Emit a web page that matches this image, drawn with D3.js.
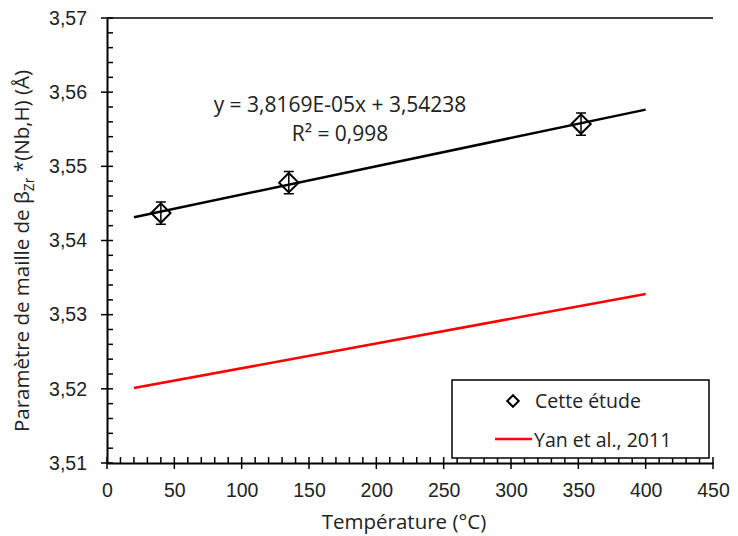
<!DOCTYPE html>
<html>
<head>
<meta charset="utf-8">
<script src="https://cdn.jsdelivr.net/npm/d3@7"></script>
<style>
  html, body { margin: 0; padding: 0; background: #fff; }
  svg { display: block; font-family: "Open Sans", "Noto Sans", sans-serif; }
</style>
</head>
<body>
<svg id="chart" width="738" height="536"></svg>
<script>
// Measured lattice parameter (this study)
const temps = [40, 135, 352];
const latticeParam = [3.5437, 3.5478, 3.5557];
const latticeErr = [0.0015, 0.0015, 0.0015];

// Linear fit y = a*x + b
const fitSlope = 3.8169e-5;
const fitIntercept = 3.54238;
const fitRange = [20, 400];

// Literature line (Yan et al., 2011)
const yanTemps = [20, 400];
const yanValues = [3.5201, 3.5328];

const xTicks = [0, 50, 100, 150, 200, 250, 300, 350, 400, 450];
const yTicks = [3.51, 3.52, 3.53, 3.54, 3.55, 3.56, 3.57];

const svg = d3.select("#chart");
const m = { left: 107, right: 25, top: 18, bottom: 73 };
const W = 738, H = 536;

const x = d3.scaleLinear().domain([0, 450]).range([m.left, W - m.right]);
const y = d3.scaleLinear().domain([3.51, 3.57]).range([H - m.bottom, m.top]);

const fmt = v => d3.format(".2f")(v).replace(".", ",");

// Top border of the plot area
svg.append("line")
  .attr("x1", x(0)).attr("x2", x(450))
  .attr("y1", y(3.57)).attr("y2", y(3.57))
  .attr("stroke", "#000").attr("stroke-width", 1.5);

// X axis: major ticks cross the line, minor ticks point inward
const xAxisG = svg.append("g").attr("transform", `translate(0,${y(3.51)})`);
xAxisG.call(d3.axisBottom(x).tickValues(xTicks).tickSize(0).tickFormat(d => d).tickPadding(20))
  .call(g => g.select(".domain").attr("stroke", "#000").attr("stroke-width", 2))
  .call(g => g.selectAll("text").attr("font-size", 19.5).attr("fill", "#222"));
xAxisG.selectAll(".major").data(xTicks).enter().append("line")
  .attr("x1", d => x(d)).attr("x2", d => x(d)).attr("y1", -6).attr("y2", 6)
  .attr("stroke", "#000").attr("stroke-width", 1.5);
xAxisG.selectAll(".minor").data(d3.range(0, 451, 10).filter(v => v % 50 !== 0)).enter().append("line")
  .attr("x1", d => x(d)).attr("x2", d => x(d)).attr("y1", 0).attr("y2", -6)
  .attr("stroke", "#000").attr("stroke-width", 1.5);

// Y axis
const yAxisG = svg.append("g").attr("transform", `translate(${x(0)},0)`);
yAxisG.call(d3.axisLeft(y).tickValues(yTicks).tickSize(0).tickFormat(fmt).tickPadding(20))
  .call(g => g.select(".domain").attr("stroke", "#000").attr("stroke-width", 2))
  .call(g => g.selectAll("text").attr("font-size", 19.5).attr("fill", "#222"));
yAxisG.selectAll(".major").data(yTicks).enter().append("line")
  .attr("x1", -6).attr("x2", 6).attr("y1", d => y(d)).attr("y2", d => y(d))
  .attr("stroke", "#000").attr("stroke-width", 1.5);
const yMinor = d3.range(0, 31).map(i => 3.51 + i * 0.002).filter((v, i) => i % 5 !== 0);
yAxisG.selectAll(".minor").data(yMinor).enter().append("line")
  .attr("x1", 0).attr("x2", 6).attr("y1", d => y(d)).attr("y2", d => y(d))
  .attr("stroke", "#000").attr("stroke-width", 1.5);

// Axis titles
svg.append("text")
  .attr("x", (x(0) + x(450)) / 2 - 6).attr("y", 529)
  .attr("text-anchor", "middle").attr("font-size", 20.5).attr("fill", "#222")
  .text("Température (°C)");

const yTitle = svg.append("text")
  .attr("transform", `translate(29,251) rotate(-90)`)
  .attr("text-anchor", "middle").attr("font-size", 20.5).attr("fill", "#222");
yTitle.append("tspan").text("Paramètre de maille de β");
yTitle.append("tspan").attr("font-size", 14).attr("dy", 5).text("Zr");
yTitle.append("tspan").attr("dy", -5).text(" *(Nb,H) (Å)");

// Literature line
const line = d3.line().x(d => x(d[0])).y(d => y(d[1]));
svg.append("path")
  .datum(d3.zip(yanTemps, yanValues))
  .attr("d", line).attr("fill", "none").attr("stroke", "#ff0000").attr("stroke-width", 2.5);

// Linear fit line
svg.append("path")
  .datum(fitRange.map(t => [t, fitSlope * t + fitIntercept]))
  .attr("d", line).attr("fill", "none").attr("stroke", "#000").attr("stroke-width", 2.5);

// Error bars and markers
const pts = temps.map((t, i) => ({ t, v: latticeParam[i], e: latticeErr[i] }));
const gPts = svg.append("g");
gPts.selectAll(".err").data(pts).enter().append("path")
  .attr("d", d => {
    const cx = x(d.t), y0 = y(d.v - d.e), y1 = y(d.v + d.e);
    return `M${cx},${y0}V${y1}M${cx - 5},${y0}H${cx + 5}M${cx - 5},${y1}H${cx + 5}`;
  })
  .attr("stroke", "#000").attr("stroke-width", 1.5).attr("fill", "none");
const diamond = d3.symbol().type(d3.symbolDiamond2).size(240);
gPts.selectAll(".pt").data(pts).enter().append("path")
  .attr("transform", d => `translate(${x(d.t)},${y(d.v)})`)
  .attr("d", diamond).attr("fill", "none").attr("stroke", "#000").attr("stroke-width", 2);

// Fit equation
svg.append("text").attr("x", 340).attr("y", 112).attr("text-anchor", "middle")
  .attr("font-size", 21).attr("fill", "#222")
  .text(`y = ${fitSlope.toExponential(4).toUpperCase().replace(".", ",").replace("E-5", "E-05")}x + ${String(fitIntercept).replace(".", ",")}`);
svg.append("text").attr("x", 340).attr("y", 141).attr("text-anchor", "middle")
  .attr("font-size", 21).attr("fill", "#222")
  .text("R² = 0,998");

// Legend
const lg = svg.append("g");
lg.append("rect").attr("x", 452).attr("y", 380).attr("width", 257).attr("height", 78)
  .attr("fill", "#fff").attr("stroke", "#000").attr("stroke-width", 1.5);
lg.append("path").attr("transform", "translate(513,401)")
  .attr("d", d3.symbol().type(d3.symbolDiamond2).size(85))
  .attr("fill", "none").attr("stroke", "#000").attr("stroke-width", 2);
lg.append("text").attr("x", 535).attr("y", 408).attr("font-size", 19.5).attr("fill", "#222").text("Cette étude");
lg.append("line").attr("x1", 495).attr("x2", 532).attr("y1", 439).attr("y2", 439)
  .attr("stroke", "#ff0000").attr("stroke-width", 2.5);
lg.append("text").attr("x", 534).attr("y", 447).attr("font-size", 19.5).attr("fill", "#222").text("Yan et al., 2011");
</script>
</body>
</html>
